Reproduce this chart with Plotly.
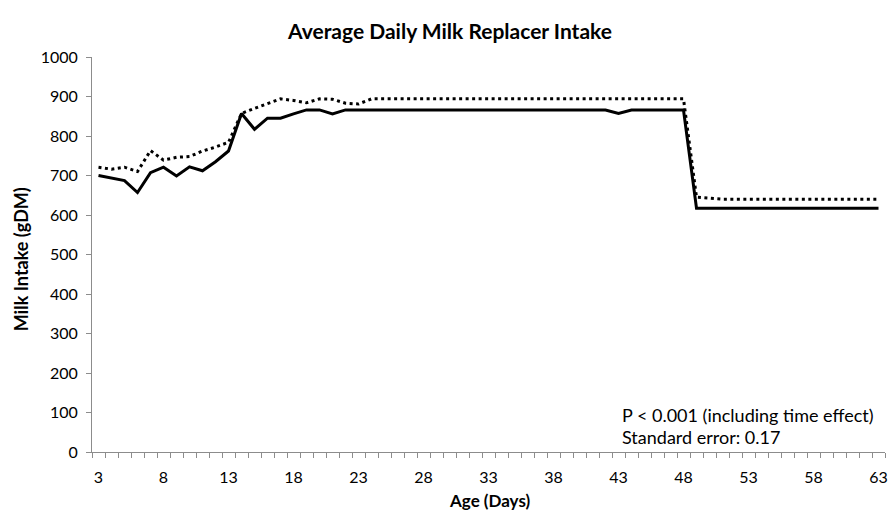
import plotly.graph_objects as go

days = list(range(3, 64))

intake_solid = [
    700, 694, 687, 657, 707, 721, 699, 722, 712, 735, 762,
    857, 817, 845, 845, 856, 866, 866, 856, 866,
    866, 866, 866, 866, 866, 866, 866, 866, 866, 866,
    866, 866, 866, 866, 866, 866, 866, 866, 866, 866,
    857,
    866, 866, 866, 866, 866,
    617, 617, 617, 617, 617, 617, 617, 617, 617, 617, 617, 617, 617, 617, 617,
]

intake_dotted = [
    721, 716, 721, 710, 763, 739, 746, 748, 762, 772, 784,
    857, 870, 882, 894, 890, 884, 894, 893, 883, 881,
    894, 894, 894, 894, 894, 894, 894, 894, 894, 894,
    894, 894, 894, 894, 894, 894, 894, 894, 894, 894,
    894, 894, 894, 894, 894,
    645, 642, 640, 640, 640, 640, 640, 640, 640, 640, 640, 640, 640, 640, 640,
]

x_tick_labels = [3, 8, 13, 18, 23, 28, 33, 38, 43, 48, 53, 58, 63]
y_tick_labels = [0, 100, 200, 300, 400, 500, 600, 700, 800, 900, 1000]

title_text = "Average Daily Milk Replacer Intake"
x_title = "Age (Days)"
y_title = "Milk Intake (gDM)"
note_lines = ["P < 0.001 (including time effect)", "Standard error: 0.17"]

FONT = "Lato"
W, H = 893, 512
L, R, T, B = 92, 5, 57, 60
PW, PH = W - L - R, H - T - B


def px(xp):
    return (xp - L) / PW


def py(yp):
    return (H - B - yp) / PH


fig = go.Figure()
fig.add_trace(go.Scatter(
    x=days, y=intake_dotted, mode="lines",
    line=dict(color="black", width=3, dash="3px,3.5px"),
    showlegend=False,
))
fig.add_trace(go.Scatter(
    x=days, y=intake_solid, mode="lines",
    line=dict(color="black", width=3),
    showlegend=False,
))

fig.update_layout(
    width=W, height=H,
    margin=dict(l=L, r=R, t=T, b=B),
    paper_bgcolor="white", plot_bgcolor="white",
    font=dict(family=FONT, size=16, color="black"),
    showlegend=False,
)

fig.update_xaxes(
    range=[2.5, 63.5],
    tickmode="array", tickvals=x_tick_labels,
    ticktext=[str(v) for v in x_tick_labels],
    ticks="", ticklabelstandoff=11,
    showgrid=False, zeroline=False,
    showline=True, linecolor="#8c8c8c", linewidth=1,
    tickfont=dict(family=FONT, size=16),
    minor=dict(ticks="outside", tick0=2.5, dtick=1, ticklen=5,
               tickcolor="#8c8c8c", tickwidth=1, showgrid=False),
)
fig.update_yaxes(
    range=[0, 1000],
    tickmode="array", tickvals=y_tick_labels,
    ticks="outside", ticklen=5, tickcolor="#8c8c8c", ticklabelstandoff=5,
    showgrid=False, zeroline=False,
    showline=True, linecolor="#8c8c8c", linewidth=1,
    tickfont=dict(family=FONT, size=16),
)

annotations = [
    dict(text="<b>" + title_text + "</b>", xref="paper", yref="paper",
         x=px(451), y=py(30), xanchor="center", yanchor="middle",
         showarrow=False, font=dict(family=FONT, size=21)),
    dict(text="<b>" + x_title + "</b>", xref="paper", yref="paper",
         x=px(491), y=py(500), xanchor="center", yanchor="middle",
         showarrow=False, font=dict(family=FONT, size=17)),
    dict(text="<b>" + y_title + "</b>", xref="paper", yref="paper",
         x=px(21), y=py(259), xanchor="center", yanchor="middle",
         textangle=-90, showarrow=False, font=dict(family=FONT, size=18)),
]
for i, line in enumerate(note_lines):
    annotations.append(dict(
        text=line, xref="paper", yref="paper",
        x=px(622), y=py(415 + 22 * i),
        xanchor="left", yanchor="middle", showarrow=False,
        font=dict(family=FONT, size=18),
    ))
fig.update_layout(annotations=annotations)

fig.write_html(
    "out.html",
    config={"displayModeBar": False},
    post_script="document.body.style.margin='0';document.body.style.overflow='hidden';",
)
